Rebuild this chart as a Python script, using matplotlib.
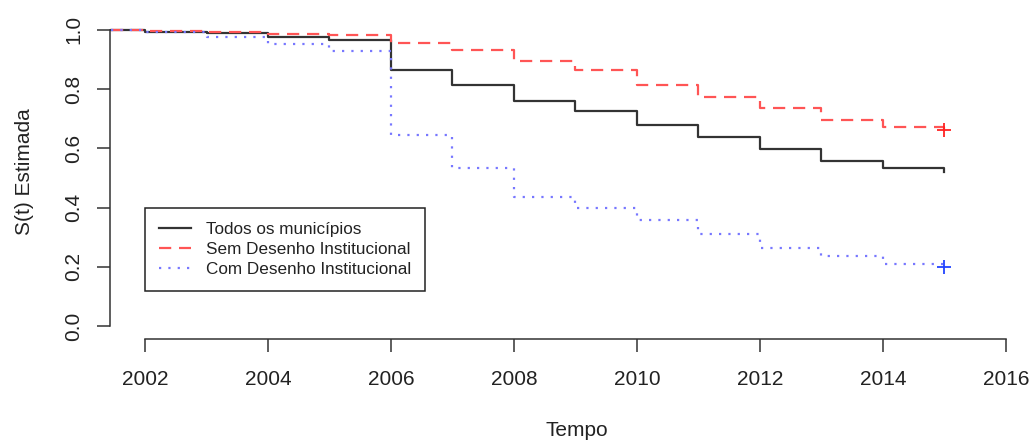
import matplotlib
matplotlib.use("Agg")
import matplotlib.pyplot as plt

plt.rcParams['font.family'] = ['Liberation Sans', 'DejaVu Sans']

# Data
times = [2001.45, 2002, 2003, 2004, 2005, 2006, 2007, 2008, 2009, 2010,
         2011, 2012, 2013, 2014, 2015]
todos = [1.0, 0.994, 0.989, 0.977, 0.965, 0.864, 0.814, 0.760, 0.725, 0.678,
         0.639, 0.597, 0.558, 0.533, 0.521]
sem = [1.0, 0.995, 0.993, 0.986, 0.982, 0.956, 0.931, 0.894, 0.863, 0.814,
       0.774, 0.736, 0.695, 0.671, 0.662]
com = [1.0, 0.992, 0.977, 0.953, 0.928, 0.644, 0.533, 0.437, 0.398, 0.357,
       0.311, 0.264, 0.235, 0.208, 0.200]
labels = ["Todos os municípios", "Sem Desenho Institucional", "Com Desenho Institucional"]
xticks = [2002, 2004, 2006, 2008, 2010, 2012, 2014, 2016]
yticks = [0.0, 0.2, 0.4, 0.6, 0.8, 1.0]

W, H = 1034, 441
fig = plt.figure(figsize=(W / 100, H / 100), dpi=100)
ax = fig.add_axes([110 / W, 1 - 339 / H, (1015 - 110) / W, (339 - 18) / H])

txt = '#222222'
ax.step(times, todos, where='post', color='#333333', lw=1.6, label=labels[0])
ax.step(times, sem, where='post', color='#FF5555', lw=1.6, ls=(0, (5.5, 3.5)), label=labels[1])
ax.step(times, com, where='post', color='#7777FF', lw=1.6, ls=(0, (1, 3.2)), label=labels[2])
ax.plot([times[-1]], [sem[-1]], marker='+', color='#FF2222', ms=10, mew=1.3, ls='none')
ax.plot([times[-1]], [com[-1]], marker='+', color='#2244FF', ms=10, mew=1.3, ls='none')

ax.set_xlim(2001.43, 2016.15)
ax.set_ylim(-0.044, 1.04)

for s in ['top', 'right']:
    ax.spines[s].set_visible(False)
ax.spines['left'].set_bounds(0, 1)
ax.spines['bottom'].set_bounds(2002, 2016)
for s in ['left', 'bottom']:
    ax.spines[s].set_color('#333333')
    ax.spines[s].set_linewidth(1.1)

ax.set_xticks(xticks)
ax.set_xticklabels([str(x) for x in xticks])
ax.set_yticks(yticks)
ax.set_yticklabels([f"{y:.1f}" for y in yticks], rotation=90, va='center')
ax.tick_params(axis='both', length=9.5, width=1.1, color='#333333',
               labelsize=15, labelcolor=txt)
ax.tick_params(axis='x', pad=12.5)
ax.tick_params(axis='y', pad=9.5)

fig.text(24 / W, 1 - 172 / H, "S(t) Estimada", rotation=90, ha='center', va='center',
         fontsize=15, color=txt)
fig.text(577 / W, 1 - 430 / H, "Tempo", ha='center', va='center', fontsize=15, color=txt)

leg = ax.legend(loc='upper left', bbox_to_anchor=(145 / W, 1 - 208 / H),
                bbox_transform=fig.transFigure, borderaxespad=0, fancybox=False,
                edgecolor='#222222', framealpha=1, fontsize=12.3, handlelength=1.9,
                handletextpad=0.9, labelspacing=0.3, borderpad=0.8)
leg.get_frame().set_linewidth(1.1)
for t in leg.get_texts():
    t.set_color(txt)

fig.savefig("out.png", dpi=100)
